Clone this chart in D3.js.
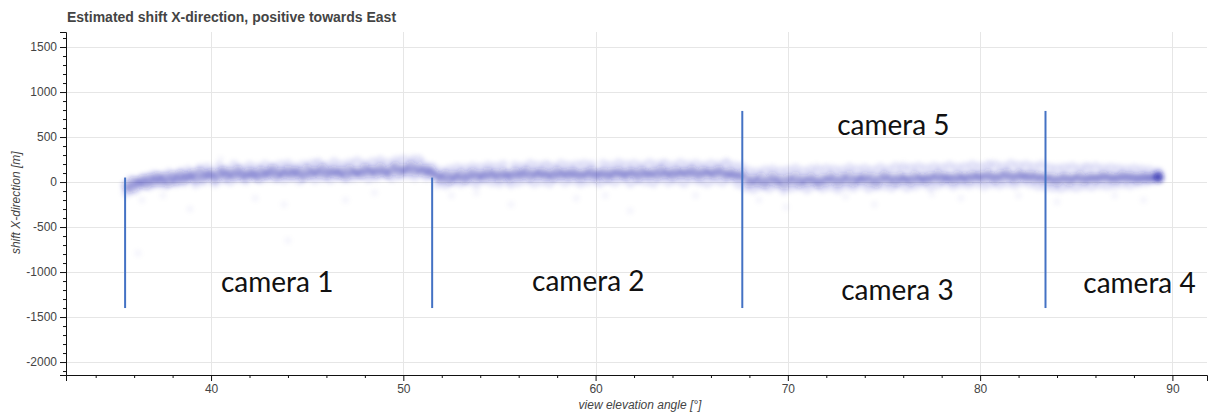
<!DOCTYPE html>
<html>
<head>
<meta charset="utf-8">
<script src="https://cdn.jsdelivr.net/npm/d3@7"></script>
<style>
  body { margin: 0; background: #fff; }
  svg text { font-family: Helvetica, "Liberation Sans", Arial, sans-serif; }
</style>
</head>
<body>
<svg id="chart" width="1210" height="414"></svg>
<script>
// elevation angle [deg] and estimated shift [m]
const elevAngle = [
  35.6,35.8,36.0,36.2,36.4,36.6,36.8,37.0,37.2,37.4,37.6,37.8,38.0,38.2,38.4,38.6,38.8,39.0,39.2,39.4,
  39.6,39.8,40.0,40.2,40.4,40.6,40.8,41.0,41.2,41.4,41.6,41.8,42.0,42.2,42.4,42.6,42.8,43.0,43.2,43.4,
  43.6,43.8,44.0,44.2,44.4,44.6,44.8,45.0,45.2,45.4,45.6,45.8,46.0,46.2,46.4,46.6,46.8,47.0,47.2,47.4,
  47.6,47.8,48.0,48.2,48.4,48.6,48.8,49.0,49.2,49.4,49.6,49.8,50.0,50.2,50.4,50.6,50.8,51.0,51.2,51.4,
  51.6,51.8,52.0,52.2,52.4,52.6,52.8,53.0,53.2,53.4,53.6,53.8,54.0,54.2,54.4,54.6,54.8,55.0,55.2,55.4,
  55.6,55.8,56.0,56.2,56.4,56.6,56.8,57.0,57.2,57.4,57.6,57.8,58.0,58.2,58.4,58.6,58.8,59.0,59.2,59.4,
  59.6,59.8,60.0,60.2,60.4,60.6,60.8,61.0,61.2,61.4,61.6,61.8,62.0,62.2,62.4,62.6,62.8,63.0,63.2,63.4,
  63.6,63.8,64.0,64.2,64.4,64.6,64.8,65.0,65.2,65.4,65.6,65.8,66.0,66.2,66.4,66.6,66.8,67.0,67.2,67.4,
  67.6,67.8,68.0,68.2,68.4,68.6,68.8,69.0,69.2,69.4,69.6,69.8,70.0,70.2,70.4,70.6,70.8,71.0,71.2,71.4,
  71.6,71.8,72.0,72.2,72.4,72.6,72.8,73.0,73.2,73.4,73.6,73.8,74.0,74.2,74.4,74.6,74.8,75.0,75.2,75.4,
  75.6,75.8,76.0,76.2,76.4,76.6,76.8,77.0,77.2,77.4,77.6,77.8,78.0,78.2,78.4,78.6,78.8,79.0,79.2,79.4,
  79.6,79.8,80.0,80.2,80.4,80.6,80.8,81.0,81.2,81.4,81.6,81.8,82.0,82.2,82.4,82.6,82.8,83.0,83.2,83.4,
  83.6,83.8,84.0,84.2,84.4,84.6,84.8,85.0,85.2,85.4,85.6,85.8,86.0,86.2,86.4,86.6,86.8,87.0,87.2,87.4,
  87.6,87.8,88.0,88.2,88.4,88.6,88.8,89.0,89.2,89.3,89.3,89.3
];
// one reading near the middle of the band for each angle
const shiftMid = [
  -40,-70,10,-20,30,-30,40,0,60,10,50,-10,70,20,80,30,60,90,40,110,
  50,80,100,40,90,120,60,100,70,130,80,60,110,90,50,120,80,100,140,70,
  110,90,130,80,120,100,60,140,90,120,100,150,80,110,130,90,120,70,140,100,
  120,90,150,110,130,100,160,120,90,140,170,110,150,130,180,120,150,110,140,100,
  90,60,40,80,20,70,50,90,30,70,100,50,80,60,110,70,90,50,100,80,
  60,110,70,90,120,60,100,80,110,70,90,60,120,80,100,70,110,90,60,100,
  80,120,70,90,110,60,100,80,120,90,70,110,100,60,120,90,80,110,70,130,
  90,100,70,120,90,110,80,130,100,70,120,90,110,80,130,100,70,110,80,60,
  90,40,-10,30,0,50,-20,20,60,0,30,-30,40,10,60,-10,30,0,50,20,
  -20,40,10,60,30,-10,50,20,70,0,40,30,60,10,50,-10,40,70,20,50,
  0,60,30,40,10,70,30,50,20,60,40,80,30,60,50,20,70,40,60,30,
  80,50,70,40,90,60,30,80,50,100,60,40,90,70,50,80,40,70,30,60,
  20,50,0,40,60,10,50,30,70,20,40,60,30,50,70,40,60,30,50,70,
  40,60,50,30,60,50,40,60,50,40,60,50
];
// a second reading toward the upper / lower edge of the band for each angle
const shiftEdge = [
  -120,20,-90,-60,-10,50,-40,80,-20,70,-30,100,30,-10,110,0,130,40,-20,150,
  10,160,60,-10,170,30,140,10,190,40,150,20,180,60,160,30,190,50,170,40,
  190,30,200,50,170,20,190,60,200,30,210,50,180,30,220,60,190,40,210,50,
  230,70,200,40,220,60,240,80,210,50,240,70,250,80,230,60,250,200,60,170,
  150,-20,120,-30,140,0,160,-10,150,10,170,-20,160,20,180,0,170,-10,190,20,
  -20,180,0,170,20,200,-10,180,10,190,-10,170,30,200,0,180,20,190,-10,200,
  10,190,30,-10,200,20,180,0,210,30,190,-10,200,20,180,10,210,-10,190,30,
  200,0,180,20,210,-10,190,30,200,10,180,-10,200,20,190,0,210,30,180,-20,
  170,-60,120,-80,110,-50,130,-70,140,-40,120,-90,130,-60,150,-50,120,-80,140,-40,
  130,-70,150,-50,140,-80,130,-40,160,-60,140,-30,150,-70,130,-50,160,-40,140,-60,
  170,-30,150,-60,160,-40,170,-20,150,-50,170,-30,160,-10,180,-40,160,-20,170,-30,
  190,-10,170,-40,180,-20,190,-30,170,-10,200,-30,180,0,190,-20,170,-40,190,-50,
  160,-60,150,-70,160,-50,170,-60,150,-40,160,-50,170,-30,150,-40,160,-30,150,-20,
  140,-30,150,-10,140,0,130,20,110,40,100,80
];
// sparse outliers
const outAngle = [36.2,36.4,37.5,38.9,40.5,42.3,43.8,44.0,45.5,47.0,48.5,50.5,52.5,53.8,55.6,57.5,59.0,60.5,61.8,63.5,
  65.2,66.8,68.5,69.9,71.5,73.0,74.5,76.0,77.5,79.0,80.5,82.0,84.0,85.5,87.0,88.5];
const outShift = [-790,-200,-150,-300,250,-180,-250,-650,230,-200,-120,280,-150,-120,-250,200,-180,-150,-320,220,
  -150,230,-200,-280,180,-160,-250,200,-130,-180,220,-150,-220,190,-150,-200];

// camera boundary lines
const sepAngle = [35.53, 51.5, 67.63, 83.4];
const sepTop = [50, 50, 790, 790];
const sepBottom = -1400;

const camNames = ["camera 1", "camera 2", "camera 3", "camera 4", "camera 5"];
const camAngle = [43.44, 59.62, 75.70, 88.29, 75.49];
const camShift = [-1222, -1211, -1311, -1233, 522];

const yTicks = [1500, 1000, 500, 0, -500, -1000, -1500, -2000];
const xTicks = [40, 50, 60, 70, 80, 90];

const margin = { left: 66, top: 32, right: 3, bottom: 39 };
const W = 1210, H = 414;
const svg = d3.select("#chart");

const x = d3.scaleLinear().domain([32.456, 91.8]).range([margin.left, W - margin.right]);
const y = d3.scaleLinear().domain([-2144, 1667]).range([H - margin.bottom, margin.top]);

// grid
const grid = svg.append("g").attr("stroke", "#e6e6e6").attr("stroke-width", 1);
grid.selectAll(".gx").data(xTicks).join("line")
  .attr("x1", d => Math.round(x(d)) + 0.5).attr("x2", d => Math.round(x(d)) + 0.5)
  .attr("y1", margin.top).attr("y2", H - margin.bottom);
grid.selectAll(".gy").data(yTicks).join("line")
  .attr("y1", d => Math.round(y(d)) + 0.5).attr("y2", d => Math.round(y(d)) + 0.5)
  .attr("x1", margin.left).attr("x2", W - margin.right);

// scatter
const defs = svg.append("defs");
defs.append("filter").attr("id", "blur").attr("x", "-50%").attr("y", "-50%").attr("width", "200%").attr("height", "200%")
  .append("feGaussianBlur").attr("stdDeviation", 2.3);
defs.append("filter").attr("id", "blur2").attr("x", "-50%").attr("y", "-50%").attr("width", "200%").attr("height", "200%")
  .append("feGaussianBlur").attr("stdDeviation", 2.5);

svg.append("g").attr("filter", "url(#blur2)")
  .selectAll("circle").data(outAngle).join("circle")
  .attr("cx", d => x(d)).attr("cy", (d, i) => y(outShift[i]))
  .attr("r", 3).attr("fill", "#2a2ac0").attr("opacity", 0.06);

const pts = svg.append("g").attr("filter", "url(#blur)");
pts.selectAll(".e").data(elevAngle).join("circle").attr("class", "e")
  .attr("cx", d => x(d)).attr("cy", (d, i) => y(shiftEdge[i]))
  .attr("r", 5).attr("fill", "#2222b8").attr("opacity", 0.1);
pts.selectAll(".m").data(elevAngle).join("circle").attr("class", "m")
  .attr("cx", d => x(d)).attr("cy", (d, i) => y(shiftMid[i]))
  .attr("r", 5).attr("fill", "#1a1aa8").attr("opacity", 0.24);

// axes
svg.append("g").attr("transform", `translate(0,${H - margin.bottom})`)
  .call(d3.axisBottom(x).tickValues(xTicks).tickFormat(d => String(d)).tickSizeOuter(0).tickSize(6).tickPadding(3));
svg.append("g").attr("transform", `translate(0,${H - margin.bottom})`)
  .call(d3.axisBottom(x).tickValues(d3.range(34, 92, 2).filter(v => v % 10 !== 0)).tickSize(3).tickSizeOuter(0).tickFormat(""))
  .select(".domain").remove();
svg.append("g").attr("transform", `translate(${margin.left},0)`)
  .call(d3.axisLeft(y).tickValues(yTicks).tickFormat(d => String(d)).tickSizeOuter(0).tickSize(6).tickPadding(3));
svg.append("g").attr("transform", `translate(${margin.left},0)`)
  .call(d3.axisLeft(y).tickValues(d3.range(-2100, 1700, 100).filter(v => v % 500 !== 0)).tickSize(3).tickSizeOuter(0).tickFormat(""))
  .select(".domain").remove();
svg.selectAll(".tick text").attr("font-size", 12).attr("fill", "#444");
svg.selectAll(".domain").attr("stroke", "#111");
svg.selectAll(".tick line").attr("stroke", "#111");

// camera separators
svg.append("g").selectAll("line").data(sepAngle).join("line")
  .attr("x1", d => x(d)).attr("x2", d => x(d))
  .attr("y1", (d, i) => y(sepTop[i])).attr("y2", y(sepBottom))
  .attr("stroke", "#4472c4").attr("stroke-width", 2);

svg.append("g").selectAll("text").data(camNames).join("text")
  .attr("x", (d, i) => x(camAngle[i])).attr("y", (d, i) => y(camShift[i]))
  .attr("text-anchor", "middle")
  .style("font-family", "Lato, 'Open Sans', sans-serif").attr("font-size", 28).attr("fill", "#111")
  .text(d => d);

// titles
svg.append("text").attr("x", margin.left + 1).attr("y", 22)
  .attr("font-size", 14).attr("font-weight", "bold").attr("fill", "#444")
  .text("Estimated shift X-direction, positive towards East");
svg.append("text").attr("x", 640).attr("y", 409)
  .attr("text-anchor", "middle").attr("font-size", 12).attr("font-style", "italic").attr("fill", "#444")
  .text("view elevation angle [°]");
svg.append("text").attr("transform", `translate(20,${y(-230)}) rotate(-90)`)
  .attr("text-anchor", "middle").attr("font-size", 12).attr("font-style", "italic").attr("fill", "#444")
  .text("shift X-direction [m]");
</script>
</body>
</html>
